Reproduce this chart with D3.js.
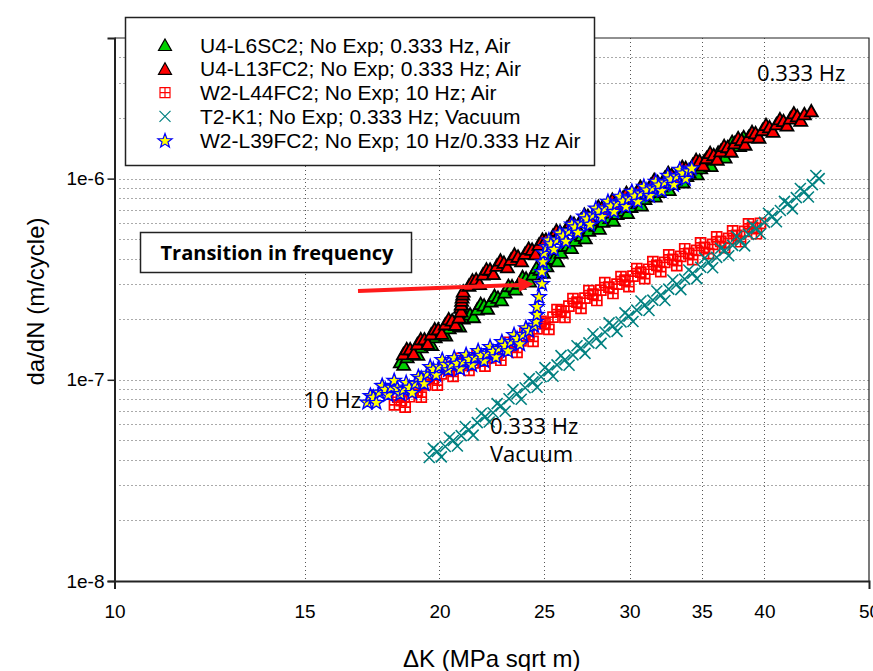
<!DOCTYPE html>
<html>
<head>
<meta charset="utf-8">
<script src="https://cdn.jsdelivr.net/npm/d3@7"></script>
<style>
  body { margin: 0; background: #fff; }
  svg { display: block; }
</style>
</head>
<body>
<script>
// ΔK (MPa sqrt m), da/dN (m/cycle) pairs.
const u4L6SC2 = [[18.40,1.228e-7],[18.67,1.300e-7],[18.96,1.376e-7],[19.24,1.457e-7],[19.53,1.543e-7],[19.82,1.633e-7],[20.12,1.728e-7],[20.42,1.810e-7],[20.73,1.915e-7],[21.04,2.027e-7],[21.35,2.123e-7],[21.68,2.247e-7],[22.00,2.351e-7],[22.33,2.461e-7],[22.66,2.57e-7],[23.00,2.726e-7],[23.35,2.93e-7],[23.70,3.02e-7],[24.06,3.2e-7],[24.42,3.35e-7],[24.78,3.545e-7],[25.15,3.68e-7],[25.54,4.015e-7],[25.92,4.30e-7],[26.31,4.66e-7],[26.70,4.93e-7],[27.10,5.22e-7],[27.51,5.53e-7],[27.92,5.85e-7],[28.34,6.126e-7],[28.77,6.41e-7],[29.21,6.71e-7],[29.65,6.95e-7],[30.09,7.27e-7],[30.54,7.6e-7],[31.00,7.96e-7],[31.46,8.35e-7],[31.93,8.62e-7],[32.41,9.03e-7],[32.90,9.45e-7],[33.39,9.89e-7],[33.90,1.035e-6],[34.41,1.083e-6],[34.92,1.13e-6],[35.44,1.20e-6],[35.97,1.256e-6],[36.51,1.314e-6],[37.06,1.43e-6],[37.62,1.49e-6],[38.27,1.614e-6]];
const u4L6SC2Fringe = [[18.53,1.194e-7],[18.81,1.384e-7],[19.10,1.339e-7],[19.38,1.551e-7],[19.67,1.496e-7],[19.97,1.737e-7],[20.27,1.666e-7],[20.57,1.928e-7],[20.88,1.849e-7],[21.19,2.157e-7],[21.51,2.058e-7],[21.84,2.393e-7],[22.16,2.268e-7],[22.49,2.623e-7],[22.83,2.496e-7],[23.17,2.938e-7],[23.52,2.825e-7],[23.88,3.255e-7],[24.24,3.092e-7],[24.60,3.611e-7],[24.96,3.424e-7],[25.34,4.020e-7],[25.73,3.905e-7],[26.11,4.645e-7],[26.50,4.540e-7],[26.90,5.31e-7],[27.30,5.07e-7],[27.71,5.96e-7],[28.13,5.66e-7],[28.55,6.60e-7],[28.99,6.21e-7],[29.43,7.19e-7],[29.87,6.77e-7],[30.31,7.80e-7],[30.77,7.39e-7],[31.23,8.59e-7],[31.69,8.18e-7],[32.17,9.29e-7],[32.65,8.81e-7],[33.14,1.018e-6],[33.64,9.62e-7],[34.15,1.115e-6],[34.66,1.056e-6],[35.18,1.227e-6],[35.70,1.16e-6],[36.24,1.352e-6],[36.78,1.28e-6],[37.34,1.53e-6],[37.94,1.46e-6]];

const u4L13FC2 = [[18.52,1.345e-7],[18.79,1.424e-7],[19.08,1.508e-7],[19.37,1.596e-7],[19.65,1.689e-7],[19.95,1.790e-7],[20.25,1.894e-7],[20.55,1.982e-7],[20.86,2.05e-7],[20.95,2.196e-7],[20.95,2.378e-7],[20.99,2.576e-7],[21.04,2.758e-7],[21.30,2.952e-7],[21.63,3.164e-7],[21.95,3.35e-7],[22.28,3.545e-7],[22.61,3.709e-7],[22.95,3.836e-7],[23.30,3.973e-7],[23.65,4.111e-7],[24.01,4.25e-7],[24.37,4.453e-7],[24.73,4.71e-7],[25.10,4.99e-7],[25.48,5.22e-7],[25.87,5.466e-7],[26.25,5.72e-7],[26.65,5.99e-7],[27.05,6.27e-7],[27.45,6.56e-7],[27.86,6.865e-7],[28.28,7.18e-7],[28.71,7.44e-7],[29.14,7.694e-7],[29.58,8.05e-7],[30.02,8.34e-7],[30.47,8.62e-7],[30.93,9.03e-7],[31.39,9.34e-7],[31.86,9.66e-7],[32.34,1.012e-6],[32.83,1.047e-6],[33.32,1.083e-6],[33.82,1.134e-6],[34.33,1.173e-6],[34.84,1.228e-6],[35.36,1.27e-6],[35.90,1.314e-6],[36.44,1.375e-6],[36.98,1.44e-6],[37.54,1.507e-6],[38.10,1.56e-6],[38.67,1.614e-6],[39.25,1.69e-6],[39.84,1.75e-6],[40.44,1.809e-6],[41.04,1.87e-6],[41.66,1.94e-6],[42.28,2.0e-6],[42.91,2.05e-6],[43.56,2.10e-6],[44.21,2.17e-6]];
const u4L13FC2Fringe = [[18.65,1.426e-7],[18.93,1.353e-7],[19.22,1.598e-7],[19.51,1.516e-7],[19.80,1.790e-7],[20.10,1.701e-7],[20.40,2.008e-7],[20.70,1.883e-7],[20.92,2.29e-7],[20.97,2.48e-7],[21.02,2.67e-7],[21.46,3.129e-7],[21.79,3.006e-7],[22.11,3.551e-7],[22.44,3.368e-7],[22.78,3.932e-7],[23.12,3.644e-7],[23.47,4.211e-7],[23.83,3.905e-7],[24.19,4.505e-7],[24.55,4.230e-7],[24.91,4.993e-7],[25.29,4.741e-7],[25.67,5.533e-7],[26.06,5.193e-7],[26.45,6.063e-7],[26.85,5.691e-7],[27.25,6.646e-7],[27.65,6.232e-7],[28.07,7.277e-7],[28.49,6.821e-7],[28.92,7.886e-7],[29.36,7.309e-7],[29.80,8.533e-7],[30.24,7.923e-7],[30.70,9.137e-7],[31.16,8.579e-7],[31.62,9.900e-7],[32.10,9.177e-7],[32.58,1.073e-6],[33.07,9.947e-7],[33.57,1.148e-6],[34.07,1.077e-6],[34.58,1.243e-6],[35.10,1.167e-6],[35.63,1.346e-6],[36.17,1.248e-6],[36.71,1.458e-6],[37.26,1.368e-6],[37.82,1.597e-6],[38.38,1.482e-6],[38.96,1.711e-6],[39.54,1.606e-6],[40.14,1.855e-6],[40.74,1.719e-6],[41.35,1.982e-6],[41.97,1.843e-6],[42.59,2.12e-6],[43.23,1.948e-6]];

const w2L44FC2 = [[18.17,7.51e-8],[18.44,7.87e-8],[18.75,8.24e-8],[19.08,8.82e-8],[19.41,9.44e-8],[19.74,1.012e-7],[20.08,1.07e-7],[20.42,1.118e-7],[20.77,1.173e-7],[21.12,1.199e-7],[21.49,1.214e-7],[21.86,1.257e-7],[22.23,1.286e-7],[22.61,1.345e-7],[23.00,1.408e-7],[23.40,1.473e-7],[23.80,1.560e-7],[24.21,1.671e-7],[24.63,1.790e-7],[25.05,1.915e-7],[25.48,2.05e-7],[25.92,2.196e-7],[26.36,2.324e-7],[26.82,2.433e-7],[27.28,2.547e-7],[27.75,2.665e-7],[28.22,2.79e-7],[28.71,2.888e-7],[29.21,2.987e-7],[29.71,3.127e-7],[30.22,3.273e-7],[30.73,3.426e-7],[31.26,3.545e-7],[31.80,3.709e-7],[32.34,3.836e-7],[32.90,3.973e-7],[33.46,4.111e-7],[34.04,4.25e-7],[34.62,4.40e-7],[35.21,4.555e-7],[35.82,4.71e-7],[36.44,4.877e-7],[37.06,5.05e-7],[37.70,5.22e-7],[38.35,5.466e-7],[39.00,5.72e-7],[39.67,5.99e-7]];
const w2L44FC2Fringe = [[18.30,8.19e-8],[18.59,7.32e-8],[18.91,8.98e-8],[19.24,8.20e-8],[19.57,1.029e-7],[19.91,9.41e-8],[20.25,1.166e-7],[20.59,1.040e-7],[20.94,1.279e-7],[21.30,1.115e-7],[21.67,1.323e-7],[22.04,1.169e-7],[22.42,1.402e-7],[22.80,1.251e-7],[23.20,1.535e-7],[23.60,1.370e-7],[24.00,1.70e-7],[24.42,1.554e-7],[24.84,1.951e-7],[25.26,1.781e-7],[25.70,2.235e-7],[26.14,2.042e-7],[26.59,2.533e-7],[27.05,2.263e-7],[27.51,2.776e-7],[27.98,2.478e-7],[28.46,3.041e-7],[28.96,2.686e-7],[29.46,3.256e-7],[29.96,2.908e-7],[30.47,3.568e-7],[30.99,3.186e-7],[31.53,3.864e-7],[32.07,3.449e-7],[32.62,4.181e-7],[33.18,3.695e-7],[33.75,4.481e-7],[34.33,3.953e-7],[34.91,4.796e-7],[35.51,4.236e-7],[36.13,5.134e-7],[36.75,4.536e-7],[37.38,5.505e-7],[38.02,4.855e-7],[38.67,5.958e-7],[39.33,5.32e-7]];

const t2K1 = [[19.57,4.11e-8],[19.91,4.40e-8],[20.25,4.66e-8],[20.60,4.99e-8],[20.95,5.28e-8],[21.30,5.65e-8],[21.68,6.13e-8],[22.05,6.56e-8],[22.42,6.86e-8],[22.81,7.43e-8],[23.20,8.05e-8],[23.60,8.52e-8],[24.01,9.13e-8],[24.42,9.77e-8],[24.84,1.035e-7],[25.26,1.108e-7],[25.70,1.187e-7],[26.14,1.257e-7],[26.59,1.330e-7],[27.05,1.44e-7],[27.51,1.525e-7],[27.98,1.614e-7],[28.47,1.728e-7],[28.96,1.851e-7],[29.46,1.937e-7],[29.96,2.074e-7],[30.47,2.221e-7],[31.00,2.351e-7],[31.53,2.49e-7],[32.07,2.636e-7],[32.62,2.823e-7],[33.18,2.987e-7],[33.75,3.164e-7],[34.33,3.386e-7],[34.92,3.626e-7],[35.51,3.836e-7],[36.13,4.063e-7],[36.75,4.40e-7],[37.38,4.66e-7],[38.02,4.93e-7],[38.67,5.28e-7],[39.33,5.66e-7],[40.01,6.06e-7],[40.69,6.49e-7],[41.39,6.94e-7],[42.10,7.52e-7],[42.82,8.05e-7],[43.56,8.62e-7],[44.31,9.33e-7],[44.96,1.0e-6]];
const t2K1Fringe = [[19.74,4.56e-8],[20.08,4.14e-8],[20.43,5.17e-8],[20.78,4.69e-8],[21.13,5.86e-8],[21.49,5.31e-8],[21.87,6.80e-8],[22.24,6.17e-8],[22.62,7.61e-8],[23.01,6.98e-8],[23.40,8.94e-8],[23.81,8.01e-8],[24.22,1.013e-7],[24.63,9.18e-8],[25.05,1.149e-7],[25.48,1.042e-7],[25.92,1.318e-7],[26.37,1.182e-7],[26.82,1.476e-7],[27.28,1.354e-7],[27.75,1.693e-7],[28.23,1.517e-7],[28.72,1.918e-7],[29.21,1.740e-7],[29.71,2.150e-7],[30.22,1.950e-7],[30.74,2.465e-7],[31.27,2.210e-7],[31.80,2.764e-7],[32.35,2.478e-7],[32.90,3.134e-7],[33.47,2.808e-7],[34.04,3.512e-7],[34.63,3.183e-7],[35.22,4.025e-7],[35.82,3.606e-7],[36.44,4.510e-7],[37.07,4.136e-7],[37.70,5.173e-7],[38.35,4.634e-7],[39.00,5.861e-7],[39.67,5.320e-7],[40.35,6.727e-7],[41.04,6.101e-7],[41.75,7.703e-7],[42.46,7.069e-7],[43.19,8.936e-7],[43.94,8.103e-7],[44.64,1.036e-6]];

const w2L39FC2 = [[17.15,7.78e-8],[17.37,8.24e-8],[17.59,8.72e-8],[17.82,9.02e-8],[18.05,9.24e-8],[18.28,9.13e-8],[18.52,9.02e-8],[18.75,9.24e-8],[19.00,9.66e-8],[19.24,1.023e-7],[19.49,1.083e-7],[19.74,1.134e-7],[19.99,1.173e-7],[20.25,1.2e-7],[20.51,1.2e-7],[20.77,1.214e-7],[21.04,1.242e-7],[21.30,1.271e-7],[21.58,1.30e-7],[21.86,1.33e-7],[22.14,1.361e-7],[22.42,1.392e-7],[22.71,1.44e-7],[23.00,1.49e-7],[23.30,1.56e-7],[23.60,1.614e-7],[23.90,1.689e-7],[24.21,1.768e-7],[24.47,1.872e-7],
  [24.57,1.959e-7],[24.63,2.123e-7],[24.63,2.324e-7],[24.73,2.605e-7],[24.89,3.02e-7],[24.89,3.464e-7],[24.94,3.882e-7],[25.0,4.30e-7],
  [25.15,4.607e-7],[25.37,4.77e-7],[25.70,4.99e-7],[26.03,5.22e-7],[26.36,5.53e-7],[26.70,5.787e-7],[27.05,6.06e-7],[27.39,6.34e-7],[27.75,6.64e-7],[28.10,6.94e-7],[28.47,7.18e-7],[28.83,7.35e-7],[29.21,7.6e-7],[29.58,7.78e-7],[29.96,8.05e-7],[30.34,8.24e-7],[30.73,8.52e-7],[31.13,8.82e-7],[31.53,9.03e-7],[31.93,9.34e-7],[32.34,9.66e-7],[32.76,1.0e-6],[33.18,1.035e-6],[33.61,1.071e-6],[34.04,1.096e-6],[34.26,1.134e-6]];
const w2L39FC2Fringe = [[17.26,8.40e-8],[17.48,7.75e-8],[17.70,9.42e-8],[17.93,8.48e-8],[18.16,9.98e-8],[18.40,8.58e-8],[18.63,9.74e-8],[18.87,8.69e-8],[19.12,1.043e-7],[19.36,9.62e-8],[19.61,1.170e-7],[19.86,1.066e-7],[20.12,1.267e-7],[20.38,1.128e-7],[20.64,1.296e-7],[20.90,1.141e-7],[21.17,1.341e-7],[21.44,1.195e-7],[21.72,1.404e-7],[22.00,1.250e-7],[22.28,1.470e-7],[22.56,1.308e-7],[22.85,1.555e-7],[23.15,1.401e-7],[23.45,1.685e-7],[23.75,1.517e-7],[24.05,1.824e-7],
  [25.26,4.98e-7],[25.53,4.48e-7],[25.86,5.39e-7],[26.19,4.91e-7],[26.53,5.97e-7],[26.87,5.44e-7],[27.22,6.54e-7],[27.57,5.96e-7],[27.92,7.17e-7],[28.28,6.52e-7],[28.65,7.75e-7],[29.02,6.91e-7],[29.39,8.21e-7],[29.77,7.31e-7],[30.15,8.69e-7],[30.53,7.75e-7],[30.93,9.20e-7],[31.33,8.29e-7],[31.73,9.75e-7],[32.13,8.78e-7],[32.55,1.043e-6],[32.97,9.40e-7],[33.39,1.118e-6],[33.82,1.007e-6]];

const legendNames = [
  'U4-L6SC2; No Exp; 0.333  Hz, Air',
  'U4-L13FC2; No Exp; 0.333 Hz; Air',
  'W2-L44FC2; No Exp; 10 Hz; Air',
  'T2-K1; No Exp; 0.333 Hz; Vacuum',
  'W2-L39FC2; No Exp; 10 Hz/0.333 Hz Air'
];
const xTickLabels = [10, 15, 20, 25, 30, 35, 40, 50];
const xGridValues = [15, 20, 25, 30, 35, 40];
const yTickValues = [1e-8, 1e-7, 1e-6];

let width = 873, height = 671;

let svg = d3.select('body').append('svg')
    .attr('width', width)
    .attr('height', height)
    .style('font-family', '"Liberation Sans", Arial, sans-serif');

let x = d3.scaleLog().domain([10, 50]).range([114.5, 869]);
let y = d3.scaleLog().domain([1e-8, 5e-6]).range([581, 38]);

// minor gridlines (1..9 of each decade)
let yGrid = [];
[1e-8, 1e-7, 1e-6].forEach(dec => {
    for (let m = 1; m <= 9; m++) {
        let v = dec * m;
        if (v > 1e-8 && v < 4.9e-6) yGrid.push(v);
    }
});

let grid = svg.append('g').attr('class', 'grid')
    .attr('stroke', '#555').attr('stroke-width', 1).attr('stroke-dasharray', '1,3');
grid.selectAll('.hg').data(yGrid).enter().append('line')
    .attr('x1', x(10) + 5).attr('x2', x(50))
    .attr('y1', d => Math.round(y(d)) + 0.5).attr('y2', d => Math.round(y(d)) + 0.5);
grid.selectAll('.vg').data(xGridValues).enter().append('line')
    .attr('y1', y(5e-6)).attr('y2', y(1e-8))
    .attr('x1', d => Math.round(x(d)) + 0.5).attr('x2', d => Math.round(x(d)) + 0.5);

// frame top / right
svg.append('path')
    .attr('d', `M${x(10)},${y(5e-6)}H${x(50)}V${y(1e-8)}`)
    .attr('fill', 'none').attr('stroke', '#222').attr('stroke-width', 1.2);

// axes
let yAxis = d3.axisLeft(y).tickValues(yTickValues).tickSize(7).tickPadding(3)
    .tickFormat(d => '1e' + Math.round(Math.log10(d)));
let gy = svg.append('g').attr('transform', `translate(${x(10)},0)`).call(yAxis);
gy.selectAll('text').style('font-size', '19px').attr('fill', '#000');

let xAxisTick = d3.axisBottom(x).tickValues([10]).tickSize(8).tickFormat('');
let gx = svg.append('g').attr('transform', `translate(0,${y(1e-8)})`).call(xAxisTick);
let xAxisLab = d3.axisBottom(x).tickValues(xTickLabels).tickSize(0).tickPadding(24)
    .tickFormat(d3.format('d'));
let gx2 = svg.append('g').attr('transform', `translate(0,${y(1e-8)})`).call(xAxisLab);
gx2.select('.domain').remove();
gx2.selectAll('text').style('font-size', '19px').attr('fill', '#000');

[gy, gx].forEach(g => {
    g.select('.domain').attr('stroke', '#222').attr('stroke-width', 2);
    g.selectAll('.tick line').attr('stroke', '#222').attr('stroke-width', 1.5);
});

// axis titles
svg.append('text')
    .attr('transform', `translate(44,${(y(5e-6) + y(1e-8)) / 2 - 8}) rotate(-90)`)
    .attr('text-anchor', 'middle')
    .style('font-size', '24px')
    .text('da/dN (m/cycle)');
svg.append('text')
    .attr('x', (x(10) + x(50)) / 2).attr('y', 667)
    .attr('text-anchor', 'middle')
    .style('font-size', '24px')
    .text('\u0394K (MPa sqrt m)');

// marker shapes
function triangle() { return 'M0,-6L6.5,5.5L-6.5,5.5Z'; }
function squareCross() { return 'M-5,-5H5V5H-5ZM0,-5V5M-5,0H5'; }
function cross() { return 'M-5.5,-5.5L5.5,5.5M-5.5,5.5L5.5,-5.5'; }
function star() {
    let p = [];
    for (let i = 0; i < 10; i++) {
        let r = i % 2 === 0 ? 7.5 : 3.1;
        let a = -Math.PI / 2 + i * Math.PI / 5;
        p.push([r * Math.cos(a), r * Math.sin(a) + 0.8]);
    }
    return 'M' + p.map(q => q[0].toFixed(2) + ',' + q[1].toFixed(2)).join('L') + 'Z';
}

let series = [
    {name: legendNames[0], data: u4L6SC2.concat(u4L6SC2Fringe), path: triangle(), fill: '#00d000', stroke: '#000', sw: 1.8},
    {name: legendNames[1], data: u4L13FC2.concat(u4L13FC2Fringe), path: triangle(), fill: '#ff0000', stroke: '#000', sw: 1.8},
    {name: legendNames[2], data: w2L44FC2.concat(w2L44FC2Fringe), path: squareCross(), fill: 'none', stroke: '#ff0000', sw: 1.7},
    {name: legendNames[3], data: t2K1.concat(t2K1Fringe), path: cross(), fill: 'none', stroke: '#008080', sw: 1.6},
    {name: legendNames[4], data: w2L39FC2.concat(w2L39FC2Fringe), path: star(), fill: '#ffff00', stroke: '#0000ff', sw: 1.4}
];

series.forEach((s, i) => {
    svg.append('g').attr('class', 'series-' + i)
        .selectAll('path').data(s.data.slice().sort((a, b) => a[0] - b[0])).enter().append('path')
        .attr('d', s.path)
        .attr('transform', d => `translate(${x(d[0])},${y(d[1])})`)
        .attr('fill', s.fill)
        .attr('stroke', s.stroke)
        .attr('stroke-width', s.sw);
});

// legend
let legend = svg.append('g').attr('class', 'legend');
legend.append('rect')
    .attr('x', 125.5).attr('y', 17.5).attr('width', 469).attr('height', 148)
    .attr('fill', '#fff').attr('stroke', '#222').attr('stroke-width', 1.5);
let rows = legend.selectAll('.row').data(series).enter().append('g')
    .attr('transform', (d, i) => `translate(0,${45 + i * 23.8})`);
rows.append('path')
    .attr('d', d => d.path)
    .attr('transform', 'translate(165,0)')
    .attr('fill', d => d.fill === 'none' ? '#fff' : d.fill)
    .attr('stroke', d => d.stroke)
    .attr('stroke-width', 1.2);
rows.append('text')
    .attr('x', 200).attr('y', 7.5)
    .style('font-size', '21px')
    .text(d => d.name);

// annotations
let ann = svg.append('g').style('font-family', '"Open Sans", Lato, sans-serif');
ann.append('rect')
    .attr('x', 140.5).attr('y', 232.5).attr('width', 271).attr('height', 40)
    .attr('fill', '#fff').attr('stroke', '#222').attr('stroke-width', 1.5);
ann.append('text')
    .attr('x', 277).attr('y', 260)
    .attr('text-anchor', 'middle')
    .style('font-size', '20px').style('font-weight', 'bold')
    .text('Transition in frequency');

ann.append('line')
    .attr('x1', 358).attr('y1', 291).attr('x2', 520).attr('y2', 285)
    .attr('stroke', '#ff1a1a').attr('stroke-width', 4);
ann.append('path')
    .attr('d', 'M534,284L518,277L519,292Z')
    .attr('fill', '#ff1a1a');

ann.append('text').attr('x', 757).attr('y', 81).style('font-size', '22px').text('0.333 Hz');
ann.append('text').attr('x', 361).attr('y', 408).attr('text-anchor', 'end').style('font-size', '22px').text('10 Hz');
ann.append('text').attr('x', 490).attr('y', 434).style('font-size', '22px').text('0.333 Hz');
ann.append('text').attr('x', 490).attr('y', 462).style('font-size', '22px').text('Vacuum');
</script>
</body>
</html>
